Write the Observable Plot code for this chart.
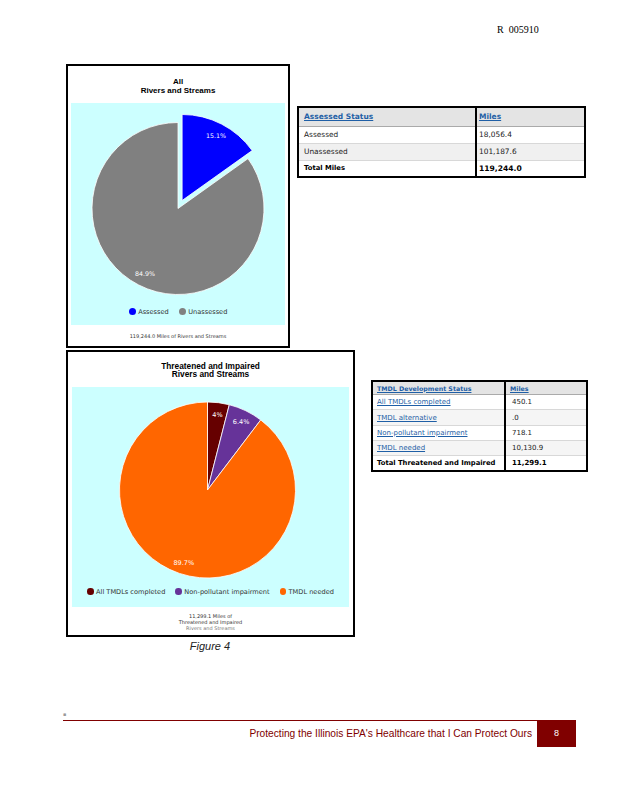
<!DOCTYPE html>
<html><head><meta charset="utf-8">
<script src="https://cdn.jsdelivr.net/npm/d3@7"></script>
<script src="https://cdn.jsdelivr.net/npm/@observablehq/plot@0.6"></script>
<style>
body{margin:0;background:#fff;}
#page{position:relative;width:618px;height:800px;overflow:hidden;font-family:"DejaVu Sans",sans-serif;background:#fff;}
.abs{position:absolute;}
.box{position:absolute;border:2px solid #000;box-sizing:border-box;background:#fff;}
.title{position:absolute;text-align:center;font:bold 8px "Liberation Sans",Arial,sans-serif;line-height:8.5px;color:#000;}
.panel{position:absolute;background:#ccffff;}
.panel svg{position:absolute;left:0;top:0;}
.legend{position:absolute;display:flex;justify-content:center;align-items:center;color:#333;white-space:nowrap;}
.legend .item{display:flex;align-items:center;}
.dot{border-radius:50%;display:inline-block;}
.caption{position:absolute;text-align:center;font-family:"DejaVu Sans",sans-serif;color:#333;}
table{border-collapse:collapse;table-layout:fixed;position:absolute;background:#fff;}
td{padding:0;white-space:nowrap;overflow:hidden;border-bottom:1px solid #d8d8d8;}
.lnk{color:#1f5fa6;text-decoration:underline;}
</style></head>
<body><div id="page"></div>
<script>
// ---- data ----
const assessedCats = ["Assessed", "Unassessed"];
const assessedMiles = [18056.4, 101187.6];
const assessedColors = ["#0000ff", "#808080"];
const assessedLabels = ["15.1%", "84.9%"];
const assessedTotal = 119244.0;

const tmdlCats = ["All TMDLs completed", "TMDL alternative", "Non-pollutant impairment", "TMDL needed"];
const tmdlMiles = [450.1, 0, 718.1, 10130.9];
const tmdlColors = ["#660000", "#2f7ed8", "#663399", "#ff6600"];
const tmdlLabels = ["4%", "", "6.4%", "89.7%"];
const tmdlTotal = 11299.1;

const page = document.getElementById("page");
function add(html){ const d=document.createElement("div"); d.innerHTML=html; const n=d.firstElementChild; page.appendChild(n); return n; }
const fmt = d3.format(",.1f");
const fmtMiles = v => v === 0 ? ".0" : fmt(v);

function piePlot({cats, miles, colors, labels, width, height, cy, r, explode = [], explodeDist = 0, labelR, fontSize}) {
  const color = Plot.scale({color: {type: "ordinal", domain: cats, range: colors}});
  const rows = cats.map((c, i) => ({cat: c, miles: miles[i], label: labels[i]}));
  const arcs = d3.pie().sort(null).value(d => d.miles)(rows).filter(a => a.data.miles > 0);
  const cx = width / 2;
  const off = a => {
    const m = (a.startAngle + a.endAngle) / 2, e = explode.includes(a.data.cat) ? explodeDist : 0;
    return [Math.sin(m) * e, -Math.cos(m) * e];
  };
  const labelRows = arcs.map(a => {
    const m = (a.startAngle + a.endAngle) / 2, [ox, oy] = off(a);
    return {x: cx + ox + Math.sin(m) * labelR, y: cy + oy - Math.cos(m) * labelR, label: a.data.label};
  });
  const slices = () => {
    const g = d3.create("svg:g").attr("transform", `translate(${cx},${cy})`);
    const arcGen = d3.arc().innerRadius(0).outerRadius(r);
    g.selectAll("path").data(arcs).join("path")
      .attr("d", arcGen)
      .attr("fill", a => color.apply(a.data.cat))
      .attr("stroke", "#fff").attr("stroke-width", 0.8).attr("stroke-linejoin", "round")
      .attr("transform", a => { const [ox, oy] = off(a); return `translate(${ox},${oy})`; });
    return g.node();
  };
  const plot = Plot.plot({
    width, height, margin: 0,
    style: {background: "transparent"},
    x: {type: "identity", axis: null},
    y: {type: "identity", axis: null},
    marks: [
      slices,
      Plot.text(labelRows, {x: "x", y: "y", text: "label", fill: "white", fontSize, fontFamily: "DejaVu Sans"})
    ]
  });
  return {plot, color};
}

function legend(cats, miles, color, {left, top, width, fontSize, dot, gap}) {
  const el = add(`<div class="legend" style="left:${left}px;top:${top}px;width:${width}px;height:10px;font-size:${fontSize}px;gap:${gap}px"></div>`);
  cats.forEach((c, i) => {
    if (miles[i] <= 0) return;
    const it = document.createElement("div");
    it.className = "item";
    it.innerHTML = `<span class="dot" style="width:${dot}px;height:${dot}px;background:${color.apply(c)};margin-right:2.5px"></span><span>${c}</span>`;
    el.appendChild(it);
  });
}

// header code
add(`<div class="abs" style="left:497px;top:24px;font:10px 'Liberation Serif',serif;color:#000;white-space:pre">R  005910</div>`);

// ---- Chart 1 ----
add(`<div class="box" style="left:66px;top:64px;width:224px;height:284px"></div>`);
add(`<div class="title" style="left:66px;top:78px;width:224px">All<br>Rivers and Streams</div>`);
const p1 = add(`<div class="panel" style="left:71px;top:103px;width:214px;height:222px"></div>`);
const c1 = piePlot({cats: assessedCats, miles: assessedMiles, colors: assessedColors, labels: assessedLabels,
  width: 214, height: 200, cy: 105.5, r: 86, explode: ["Assessed"], explodeDist: 9, labelR: 73, fontSize: 6.3});
p1.appendChild(c1.plot);
legend(assessedCats, assessedMiles, c1.color, {left: 71, top: 306.7, width: 214, fontSize: 6.6, dot: 7, gap: 10});
add(`<div class="caption" style="left:66px;top:333px;width:224px;font-size:5px;line-height:6px">${fmt(assessedTotal)} Miles of Rivers and Streams</div>`);

// ---- Table 1 ----
const t1 = add(`<table style="left:297px;top:106px;width:289px;height:72px;border:2px solid #000;font-size:7.5px"></table>`);
{
  let h = `<colgroup><col style="width:178px"><col></colgroup>`;
  h += `<tr style="height:19px;background:#e4e4e4"><td style="padding-left:5px;border-bottom:1px solid #aaa"><span class="lnk" style="font-weight:bold">Assessed Status</span></td><td style="border-left:2px solid #000;padding-left:2px;border-bottom:1px solid #aaa"><span class="lnk" style="font-weight:bold">Miles</span></td></tr>`;
  assessedCats.forEach((c, i) => {
    h += `<tr style="height:17px;background:${i % 2 ? "#f0f0f0" : "#fff"}"><td style="padding-left:5px;color:#222;font-size:7.4px">${c}</td><td style="border-left:2px solid #000;padding-left:2px;color:#222;font-size:7.4px">${fmtMiles(assessedMiles[i])}</td></tr>`;
  });
  h += `<tr style="height:17px"><td style="padding-left:5px;font-weight:bold;font-size:6.8px;border-bottom:none">Total Miles</td><td style="border-left:2px solid #000;padding-left:2px;font-weight:bold;font-size:7.6px;border-bottom:none">${fmt(assessedTotal)}</td></tr>`;
  t1.innerHTML = h;
}

// ---- Chart 2 ----
add(`<div class="box" style="left:66px;top:350px;width:289px;height:287px"></div>`);
add(`<div class="title" style="left:66px;top:361.5px;width:289px;font-size:8.3px">Threatened and Impaired<br>Rivers and Streams</div>`);
const p2 = add(`<div class="panel" style="left:72px;top:387px;width:277px;height:220px"></div>`);
const c2 = piePlot({cats: tmdlCats, miles: tmdlMiles, colors: tmdlColors, labels: tmdlLabels,
  width: 271, height: 200, cy: 103, r: 88, labelR: 76, fontSize: 6.5});
p2.appendChild(c2.plot);
legend(tmdlCats, tmdlMiles, c2.color, {left: 72, top: 586.7, width: 277, fontSize: 6.6, dot: 6.5, gap: 10});
add(`<div class="caption" style="left:66px;top:613px;width:289px;font-size:5px;line-height:6px">${fmt(tmdlTotal)} Miles of<br>Threatened and Impaired<br><span style="color:#777">Rivers and Streams</span></div>`);
add(`<div class="abs" style="left:110px;top:640px;width:200px;text-align:center;font:italic 11px 'Liberation Sans',Arial,sans-serif;color:#222">Figure 4</div>`);

// ---- Table 2 ----
const t2 = add(`<table style="left:371px;top:380px;width:217px;height:92px;border:2px solid #000;font-size:7px"></table>`);
{
  let h = `<colgroup><col style="width:133px"><col></colgroup>`;
  h += `<tr style="height:13px;background:#e4e4e4"><td style="padding-left:4px;border-bottom:1px solid #aaa;font-size:6.3px"><span class="lnk" style="font-weight:bold">TMDL Development Status</span></td><td style="border-left:2px solid #000;padding-left:4px;border-bottom:1px solid #aaa;font-size:6.3px"><span class="lnk" style="font-weight:bold">Miles</span></td></tr>`;
  tmdlCats.forEach((c, i) => {
    h += `<tr style="height:14.6px;background:${i % 2 ? "#f5f5f5" : "#fff"}"><td style="padding-left:4px"><span class="lnk">${c}</span></td><td style="border-left:2px solid #000;padding-left:6px;color:#222">${fmtMiles(tmdlMiles[i])}</td></tr>`;
  });
  h += `<tr style="height:14.6px"><td style="padding-left:4px;font-weight:bold;font-size:6.8px;border-bottom:none">Total Threatened and Impaired</td><td style="border-left:2px solid #000;padding-left:6px;font-weight:bold;border-bottom:none">${fmt(tmdlTotal)}</td></tr>`;
  t2.innerHTML = h;
}

// ---- Footer ----
add(`<div class="abs" style="left:63px;top:711px;font-size:5px;color:#999">▪</div>`);
add(`<div class="abs" style="left:63px;top:720px;width:474px;height:1px;background:#800000"></div>`);
add(`<div class="abs" style="left:537px;top:720px;width:39px;height:27px;background:#800000;color:#fff;font:9px 'Liberation Sans',Arial,sans-serif;line-height:27px;text-align:center">8</div>`);
add(`<div class="abs" style="left:150px;top:728px;width:382px;text-align:right;font:10.2px 'Liberation Sans',Arial,sans-serif;color:#800000;white-space:nowrap">Protecting the Illinois EPA's Healthcare that I Can Protect Ours</div>`);
</script>
</body></html>
